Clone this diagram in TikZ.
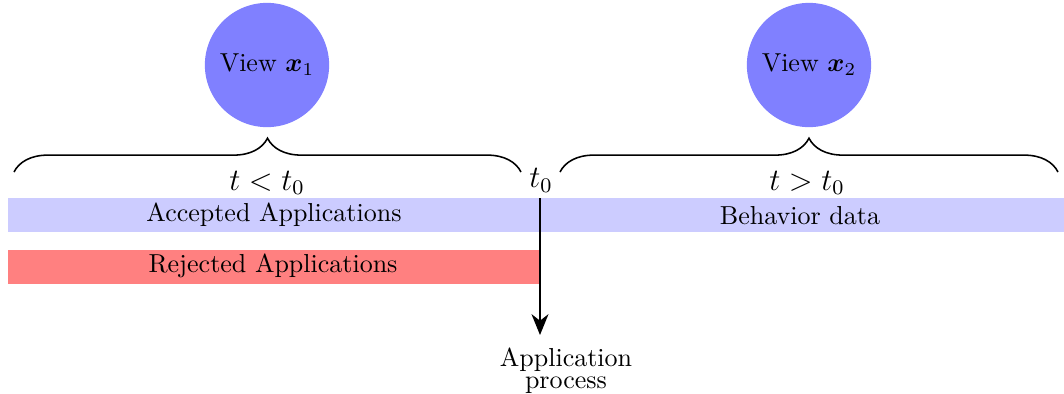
\documentclass[tikz,border=0pt]{standalone}
\usepackage{amsmath,amssymb}
\usetikzlibrary{decorations.pathreplacing,arrows.meta}
\begin{document}
\begin{tikzpicture}[x=0.01352cm,y=-0.01352cm,
  viewnode/.style={circle,fill=blue!50,minimum size=1.68cm,inner sep=0pt},
  bartext/.style={inner sep=0pt},
  timelab/.style={font=\large,inner sep=2pt},
  bracepath/.style={decorate,decoration={brace,amplitude=13pt},line width=0.6pt}]
\useasboundingbox (0,0) rectangle (1064,393);
% bars
\fill[blue!20] (8,198) rectangle (1064,232);
\fill[red!50] (8,250) rectangle (540,284);
\node[bartext] (acc) at (274,215) {Accepted Applications};
\node[bartext] (beh) at (800,216) {Behavior data};
\node[bartext] (rej) at (273,266) {Rejected Applications};
% circles
\node[viewnode] (v1) at (267,65) {View $\boldsymbol{x}_1$};
\node[viewnode] (v2) at (809,65) {View $\boldsymbol{x}_2$};
% braces
\coordinate (b1s) at (14,172);
\coordinate (b1e) at (521,172);
\coordinate (b2s) at (560,172);
\coordinate (b2e) at (1058,172);
\draw[bracepath] (b1s) -- (b1e);
\draw[bracepath] (b2s) -- (b2e);
% time labels
\node[timelab] (tl) at (267,183) {$t<t_0$};
\node[timelab] (tr) at (807,183) {$t>t_0$};
\node[timelab,anchor=south] (t0) at (541,198) {$t_0$};
% application process
\node[align=center,inner sep=1pt,anchor=north] (app) at (566,345) {Application\\[-3.5pt]process};
\draw[line width=0.8pt,-{Stealth[length=8pt,width=6.5pt,inset=2.5pt]}] (t0.south -| 540,0) -- (540,335);
\end{tikzpicture}
\end{document}
